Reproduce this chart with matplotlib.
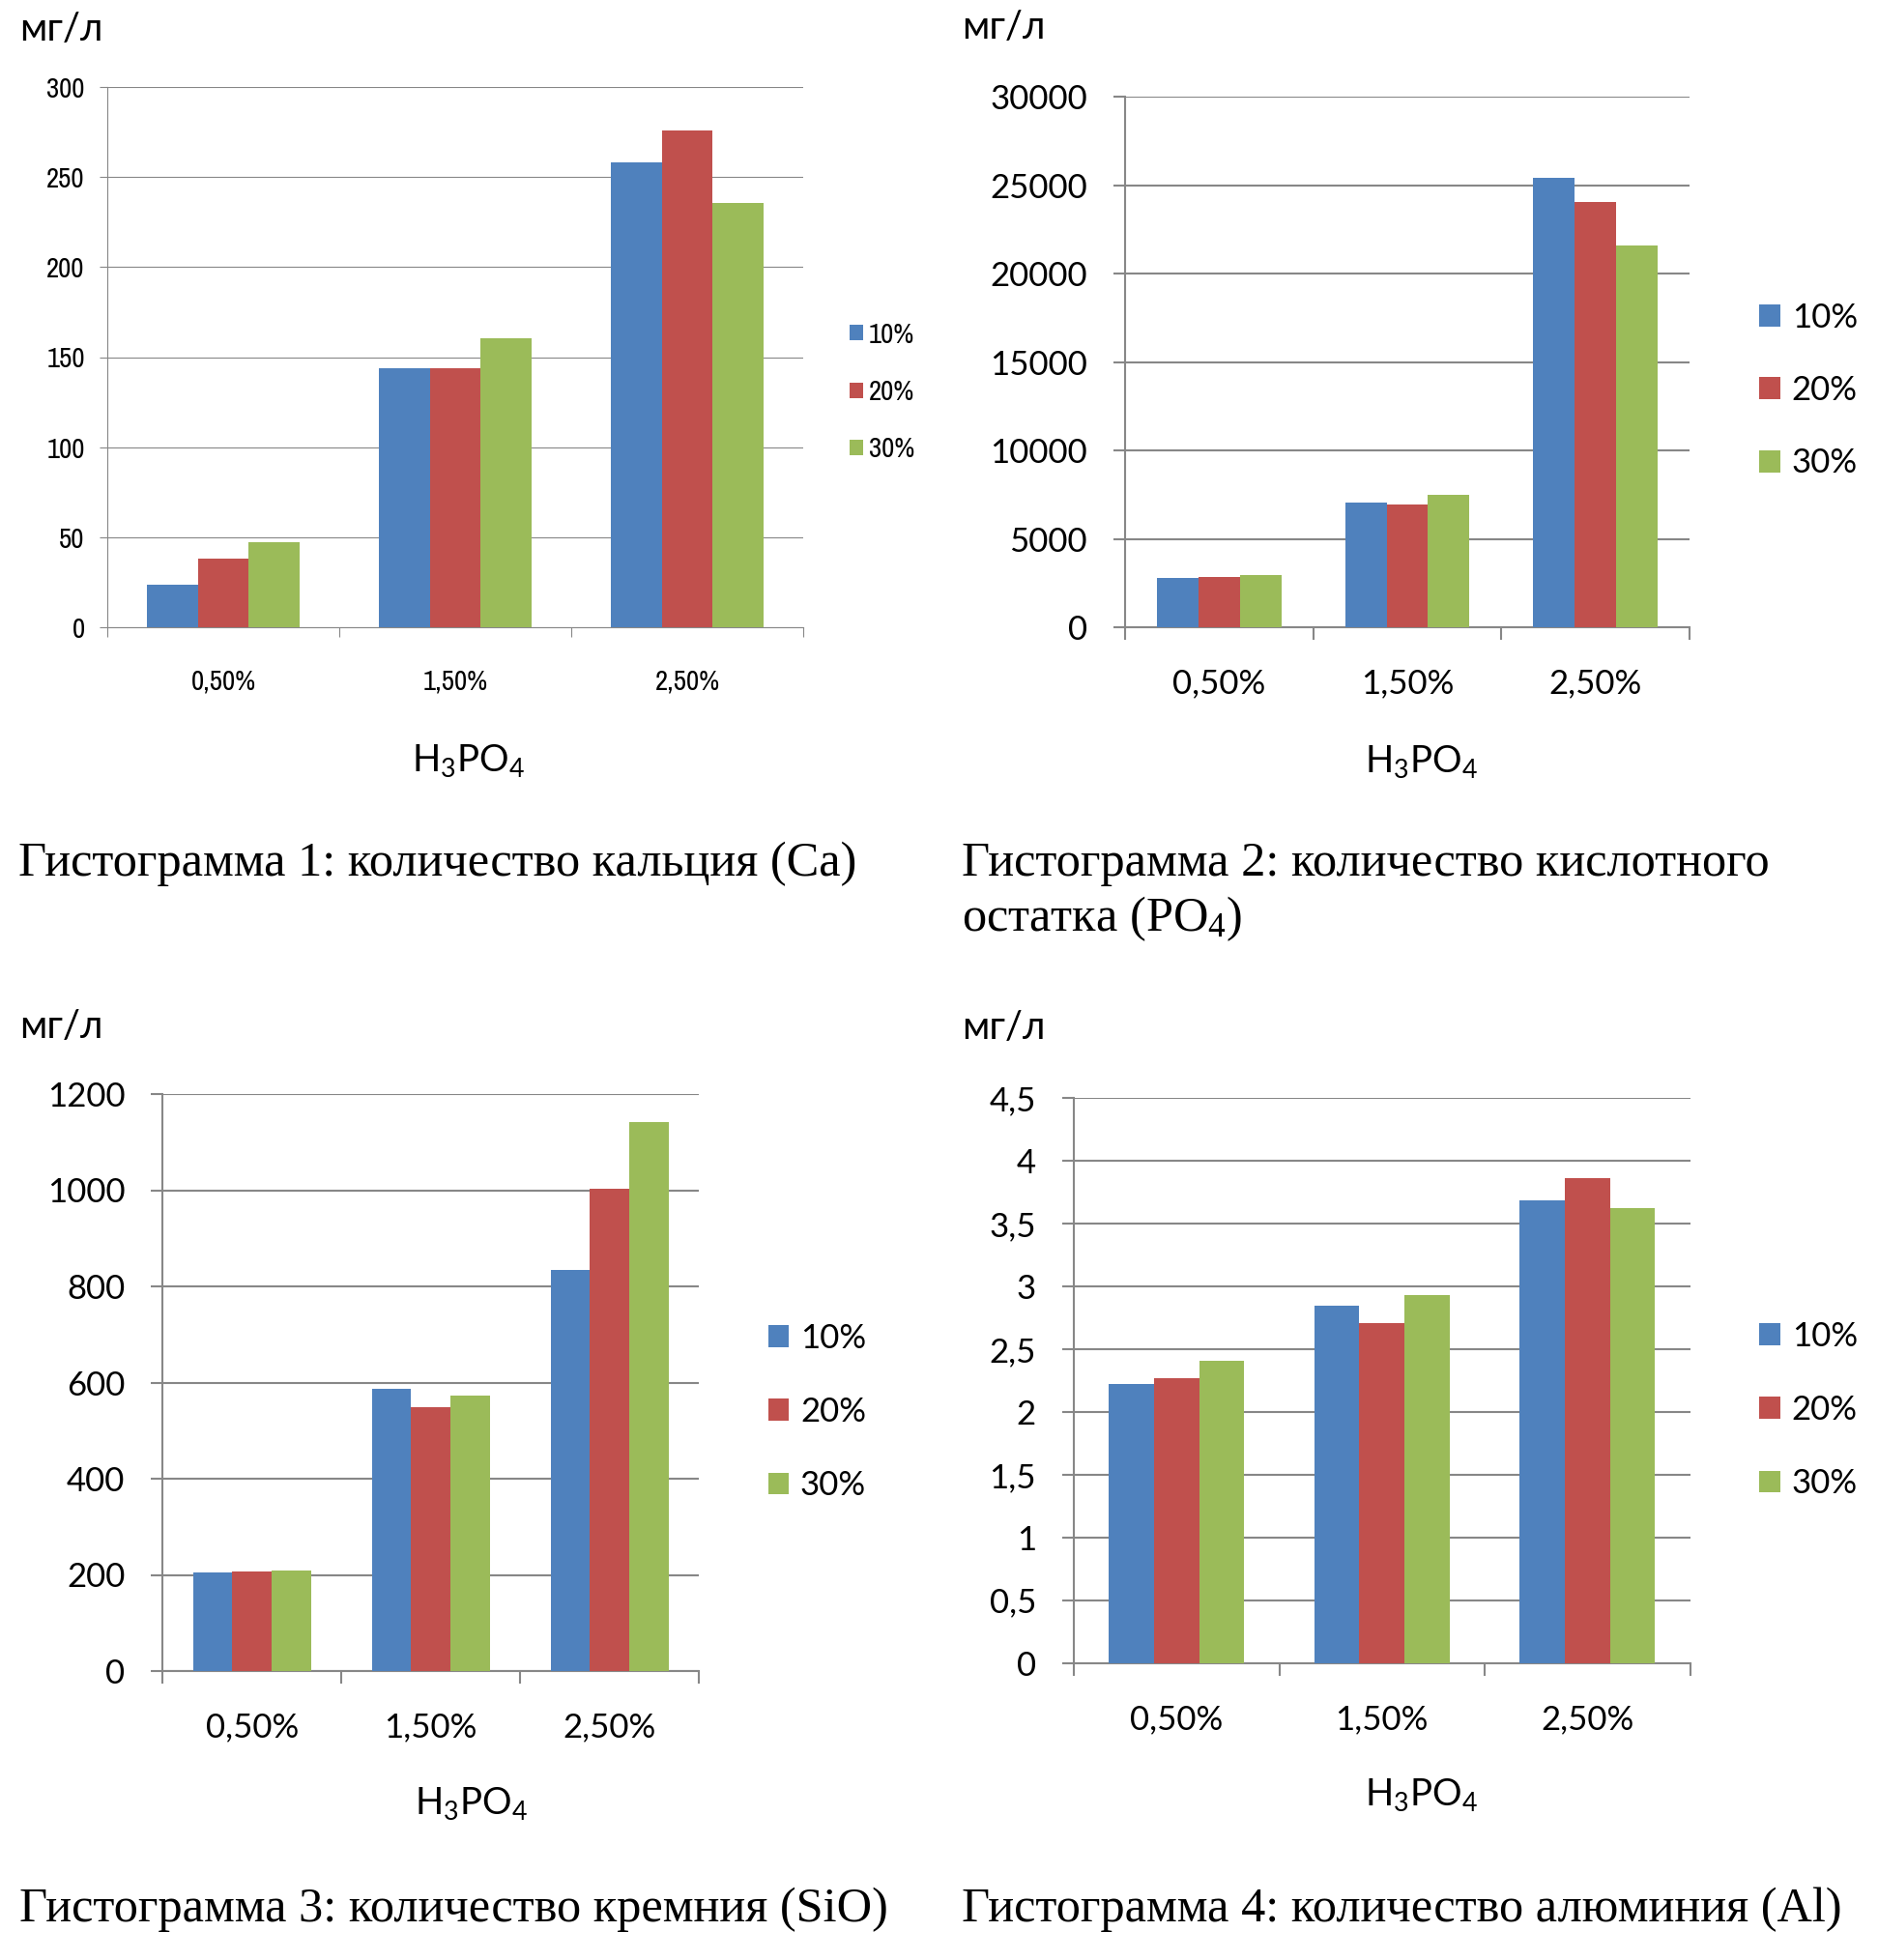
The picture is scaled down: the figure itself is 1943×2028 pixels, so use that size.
import numpy as np
import matplotlib
matplotlib.use('Agg')
import matplotlib.pyplot as plt
from matplotlib import font_manager

categories = ['0,50%', '1,50%', '2,50%']
series = ['10%', '20%', '30%']
colors = ['#4F81BD', '#C0504D', '#9BBB59']

# Гистограмма 1: Ca
ca_10 = [23.5, 143.8, 258.3]
ca_20 = [38.0, 144.0, 276.0]
ca_30 = [47.0, 160.4, 235.8]
# Гистограмма 2: PO4
po4_10 = [2790, 7060, 25450]
po4_20 = [2870, 6950, 24040]
po4_30 = [2980, 7520, 21600]
# Гистограмма 3: SiO
sio_10 = [205, 587.6, 833.9]
sio_20 = [207, 548.5, 1003]
sio_30 = [208.5, 572, 1141]
# Гистограмма 4: Al
al_10 = [2.225, 2.844, 3.687]
al_20 = [2.265, 2.71, 3.865]
al_30 = [2.408, 2.929, 3.622]

captions = [['Гистограмма 1: количество кальция (Са)'],
            ['Гистограмма 2: количество кислотного', 'остатка (PO$_4$)'],
            ['Гистограмма 3: количество кремния (SiO)'],
            ['Гистограмма 4: количество алюминия (Al)']]

W, H = 1943, 2028
DPI = 100
GRAY = '#878787'

plt.rcParams['font.family'] = ['Lato', 'DejaVu Sans']
plt.rcParams['mathtext.default'] = 'regular'

# a narrow sans for the first chart, if one is installed
fonts = font_manager.fontManager.ttflist
NARROW = {'family': 'Roboto', 'size': 18.5}
for f in fonts:
    if 'Narrow' in f.name or 'Condensed' in f.name:
        NARROW = {'family': f.name, 'size': 20.8}
        break
else:
    for f in fonts:
        if f.name == 'DejaVu Sans' and f.stretch == 'condensed' and f.weight in (400, 'normal'):
            NARROW = {'family': 'DejaVu Sans', 'stretch': 'condensed', 'size': 19}
            break
LATO = {'family': 'Lato', 'size': 25}

fig = plt.figure(figsize=(W / DPI, H / DPI), dpi=DPI)


def rect(l, r, t, b):
    return [l / W, 1 - b / H, (r - l) / W, (b - t) / H]


def fmt(v):
    return ('%g' % v).replace('.', ',')


def draw(box, vals, ymax, ystep, font, lw, ylen, xlen, ypad, xpad,
         leg_x, leg_y, hl, htp, ls):
    ax = fig.add_axes(rect(*box))
    x = np.arange(len(categories))
    for i, (lab, c) in enumerate(zip(series, colors)):
        ax.bar(x + (i - 1) * 0.22, vals[i], width=0.22, color=c, label=lab,
               zorder=3, linewidth=0)
    ax.set_xlim(-0.5, 2.5)
    ax.set_ylim(0, ymax)
    ticks = np.arange(0, ymax + ystep / 2, ystep)
    ax.set_yticks(ticks)
    ax.set_yticklabels([fmt(t) for t in ticks], fontdict=font)
    ax.set_xticks(x)
    ax.set_xticklabels(categories, fontdict=font)
    ax.set_xticks([-0.5, 0.5, 1.5, 2.5], minor=True)
    ax.tick_params(axis='x', which='major', length=0, pad=xpad)
    ax.tick_params(axis='x', which='minor', length=xlen, width=lw, color=GRAY)
    ax.tick_params(axis='y', length=ylen, width=lw, color=GRAY, pad=ypad)
    ax.set_axisbelow(True)
    ax.grid(axis='y', color=GRAY, linewidth=lw)
    for s in ['top', 'right']:
        ax.spines[s].set_visible(False)
    for s in ['left', 'bottom']:
        ax.spines[s].set_color(GRAY)
        ax.spines[s].set_linewidth(lw)
    ax.legend(loc='center left', bbox_to_anchor=(leg_x / W, 1 - leg_y / H),
              bbox_transform=fig.transFigure, frameon=False,
              prop=font, handlelength=hl,
              handleheight=hl, handletextpad=htp, labelspacing=ls,
              borderpad=0, borderaxespad=0)
    return ax


n_hl = 14 / (NARROW['size'] / 0.72)
draw((111, 831, 90, 649), [ca_10, ca_20, ca_30], 300, 50, NARROW, 0.8,
     5.8, 7.2, 11, 30.5, 878.6, 405.5, n_hl, 0.22, 1.12)
draw((1164, 1748, 100.3, 649.3), [po4_10, po4_20, po4_30], 30000, 5000, LATO,
     1.5, 8.6, 9, 19.5, 30.5, 1820.4, 404, 0.63, 0.33, 1.25)
draw((168.3, 723.3, 1132, 1729), [sio_10, sio_20, sio_30], 1200, 200, LATO,
     1.5, 8.6, 9, 19.5, 30.5, 794.6, 1461, 0.63, 0.33, 1.27)
draw((1111, 1748.5, 1136, 1720.7), [al_10, al_20, al_30], 4.5, 0.5, LATO,
     1.5, 8.6, 9, 19.5, 30.5, 1820.4, 1459, 0.63, 0.33, 1.27)


def ftext(x, y, s, **kw):
    fig.text(x / W, 1 - y / H, s, **kw)


# units
for x, y in [(20, 41.5), (995, 40.5), (20, 1073.5), (995, 1075)]:
    ftext(x, y, 'мг/л', fontsize=28.8, family='Lato', va='baseline', ha='left')

# x axis titles
for x, y in [(484.7, 798.3), (1470, 799.3), (487, 1876.7), (1470.8, 1868.3)]:
    ftext(x, y, 'H$_3$PO$_4$', fontsize=27.5, family='Lato', va='baseline',
          ha='center')

# captions, one text per line
for (x, y), lines in zip([(19, 906), (995, 906), (20, 1988), (995, 1988)], captions):
    for k, line in enumerate(lines):
        ftext(x, y + k * 57, line, fontsize=36.3,
              family=['Liberation Serif', 'DejaVu Serif'],
              va='baseline', ha='left')

fig.savefig('out.png', dpi=DPI, facecolor='white')
